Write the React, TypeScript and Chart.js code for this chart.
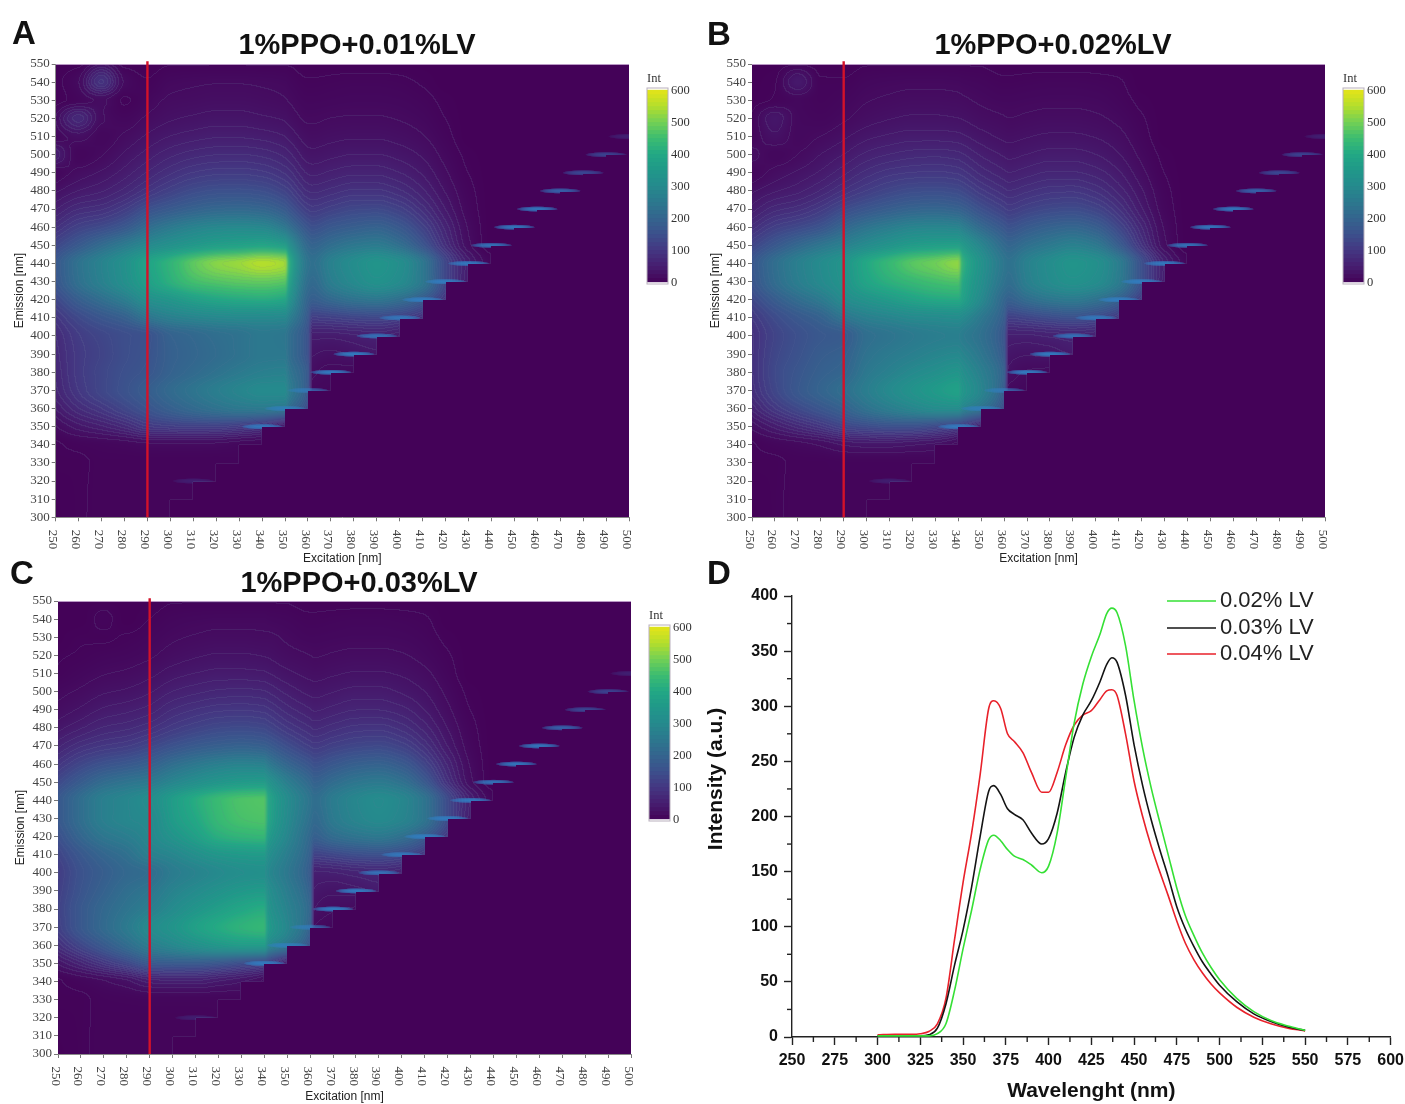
import React, { useEffect, useRef } from "react";
import { Chart, registerables } from "chart.js";

Chart.register(...registerables);

// ---------- data: excitation-emission maps ----------
const emissionRows = [550, 540, 530, 520, 510, 500, 490, 480, 470, 460, 450, 440, 430, 420, 410, 400, 390, 380, 370, 360, 350, 340, 330, 320, 310, 300];
const excitationA = [250, 260, 270, 280, 290, 300, 310, 320, 330, 340, 350, 352, 360, 362, 370, 380, 390, 400, 410, 420, 430, 440, 450, 460, 470, 480, 490, 500];
const excitationBC = [250, 260, 270, 280, 290, 300, 310, 320, 330, 340, 342, 350, 360, 362, 370, 380, 390, 400, 410, 420, 430, 440, 450, 460, 470, 480, 490, 500];
const xTickLabels = [250, 260, 270, 280, 290, 300, 310, 320, 330, 340, 350, 360, 370, 380, 390, 400, 410, 420, 430, 440, 450, 460, 470, 480, 490, 500];
const colorbarTicks = [0, 100, 200, 300, 400, 500, 600];

const gridA = [
  [0, 0, 25, 0, 0, 3, 3, 3, 3, 3, 3, 3],
  [0, 15, 90, 15, 5, 12, 14, 15, 15, 14, 12, 10, 5, 5, 6, 7, 7, 6, 3],
  [0, 8, 18, 3, 10, 18, 20, 22, 22, 20, 17, 15, 9, 9, 10, 11, 11, 10, 7, 2],
  [15, 70, 18, 10, 18, 26, 30, 33, 33, 30, 26, 23, 14, 14, 16, 17, 17, 15, 11, 4],
  [8, 22, 10, 18, 30, 40, 46, 50, 50, 47, 40, 36, 22, 21, 24, 26, 26, 23, 17, 7],
  [50, 8, 15, 30, 45, 60, 70, 75, 76, 72, 60, 55, 33, 32, 36, 40, 40, 35, 26, 12, 2],
  [8, 20, 30, 45, 65, 85, 100, 107, 108, 103, 86, 80, 50, 48, 54, 60, 60, 52, 38, 18, 4],
  [25, 40, 50, 68, 95, 120, 140, 150, 152, 146, 122, 113, 75, 72, 80, 90, 90, 78, 55, 27, 7],
  [50, 75, 85, 110, 150, 175, 195, 208, 212, 205, 175, 160, 110, 105, 118, 132, 135, 118, 82, 40, 10],
  [85, 120, 140, 170, 220, 255, 280, 295, 300, 295, 250, 230, 160, 150, 170, 185, 195, 170, 120, 60, 15],
  [130, 175, 220, 260, 300, 330, 355, 375, 385, 395, 375, 330, 210, 200, 225, 250, 260, 230, 165, 80, 20],
  [170, 235, 280, 325, 385, 430, 480, 515, 530, 550, 535, 420, 240, 230, 275, 310, 335, 315, 250, 130, 45, 8],
  [165, 230, 275, 320, 375, 420, 455, 470, 480, 485, 475, 390, 225, 215, 265, 300, 325, 305, 250, 130, 40],
  [130, 185, 225, 265, 320, 345, 375, 395, 405, 410, 395, 340, 200, 185, 210, 235, 245, 225, 175, 90],
  [95, 135, 165, 190, 240, 270, 285, 295, 300, 300, 295, 270, 170, 110, 115, 125, 130, 115, 80],
  [75, 110, 130, 145, 155, 195, 210, 225, 235, 250, 245, 225, 150, 45, 45, 50, 55, 40],
  [70, 105, 125, 145, 158, 190, 205, 220, 235, 250, 250, 225, 150, 30, 25, 30, 35],
  [65, 105, 130, 150, 165, 195, 215, 235, 255, 270, 275, 245, 170, 20, 12, 10],
  [60, 100, 130, 155, 183, 215, 240, 265, 285, 300, 300, 265, 165, 10, 8],
  [40, 75, 100, 130, 160, 190, 215, 235, 250, 255, 245, 215, 130],
  [15, 35, 50, 70, 100, 110, 115, 115, 105, 85, 40, 40],
  [3, 6, 8, 10, 14, 15, 15, 14, 10, 6],
  [3, 3, 5, 5, 5, 5, 5, 5, 5],
  [2, 3, 5, 5, 5, 5, 5, 5],
  [1, 3, 5, 5, 5, 5, 5],
  [0, 3, 5, 5, 5, 5],
];

const gridB = [
  [0, 0, 0, 0, 0, 3, 3, 3, 3, 3, 3, 3],
  [0, 3, 40, 5, 5, 10, 12, 13, 13, 12, 11, 9, 6, 6, 7, 8, 8, 7, 5],
  [0, 5, 10, 6, 9, 15, 18, 20, 20, 19, 18, 14, 11, 11, 12, 13, 13, 12, 8, 2],
  [5, 35, 12, 9, 14, 22, 27, 30, 30, 28, 27, 21, 17, 16, 18, 20, 20, 18, 13, 5],
  [6, 25, 12, 16, 25, 36, 42, 46, 46, 44, 42, 33, 25, 24, 27, 30, 30, 27, 20, 8],
  [20, 10, 16, 28, 40, 55, 64, 70, 72, 68, 65, 50, 38, 36, 40, 45, 45, 40, 29, 13, 2],
  [8, 20, 30, 42, 60, 80, 94, 100, 102, 97, 93, 72, 55, 52, 58, 65, 65, 58, 42, 20, 4],
  [25, 38, 48, 65, 90, 112, 130, 142, 145, 138, 132, 104, 80, 76, 85, 95, 97, 85, 60, 30, 7],
  [45, 70, 82, 105, 140, 165, 185, 200, 205, 195, 188, 150, 115, 108, 122, 135, 140, 125, 88, 42, 10],
  [80, 115, 135, 160, 205, 240, 265, 285, 290, 285, 270, 215, 165, 155, 175, 195, 205, 185, 130, 65, 15],
  [125, 170, 210, 245, 275, 310, 340, 365, 375, 380, 360, 290, 215, 205, 230, 255, 275, 255, 185, 90, 20],
  [165, 225, 270, 305, 340, 400, 440, 475, 495, 520, 430, 330, 245, 235, 275, 310, 335, 320, 265, 150, 50, 8],
  [160, 220, 265, 300, 335, 390, 420, 440, 455, 465, 405, 320, 235, 225, 270, 305, 325, 310, 260, 150, 45],
  [130, 180, 220, 255, 305, 335, 360, 385, 400, 405, 380, 300, 205, 190, 220, 245, 255, 235, 190, 100],
  [100, 140, 170, 195, 240, 270, 285, 300, 305, 310, 300, 250, 180, 115, 125, 140, 150, 135, 95],
  [85, 125, 150, 170, 178, 225, 240, 255, 265, 270, 260, 230, 160, 50, 50, 55, 60, 50],
  [85, 130, 155, 180, 192, 235, 255, 270, 285, 295, 285, 245, 170, 35, 30, 32, 40],
  [85, 135, 165, 190, 205, 250, 275, 300, 320, 340, 320, 270, 190, 25, 15, 12],
  [80, 130, 170, 200, 228, 265, 300, 330, 355, 375, 345, 285, 175, 12, 8],
  [55, 100, 135, 165, 195, 235, 265, 290, 310, 315, 285, 235, 135],
  [20, 45, 70, 95, 125, 140, 150, 150, 135, 110, 100, 50],
  [3, 8, 12, 18, 30, 35, 35, 30, 25, 10],
  [3, 3, 5, 5, 6, 6, 6, 6, 6],
  [2, 3, 5, 5, 5, 5, 5, 5],
  [1, 3, 5, 5, 5, 5, 5],
  [0, 3, 5, 5, 5, 5],
];

const gridC = [
  [0, 0, 0, 0, 0, 3, 3, 3, 3, 3, 3, 3],
  [0, 0, 6, 0, 4, 9, 11, 12, 12, 12, 11, 9, 6, 6, 7, 8, 8, 7, 5],
  [0, 3, 3, 5, 9, 14, 17, 19, 19, 18, 18, 14, 10, 10, 11, 12, 12, 11, 8, 2],
  [3, 5, 8, 10, 14, 21, 26, 29, 29, 27, 26, 20, 16, 15, 17, 19, 19, 17, 12, 5],
  [5, 10, 15, 18, 24, 34, 40, 44, 44, 42, 40, 31, 24, 23, 26, 29, 29, 26, 19, 8],
  [12, 18, 26, 30, 38, 52, 60, 66, 68, 65, 62, 48, 36, 35, 39, 44, 44, 38, 28, 13, 2],
  [20, 30, 42, 48, 57, 76, 88, 96, 98, 94, 90, 70, 53, 50, 56, 63, 63, 56, 40, 19, 4],
  [35, 50, 65, 72, 85, 106, 122, 134, 138, 132, 126, 100, 77, 73, 82, 92, 94, 82, 58, 28, 7],
  [60, 85, 100, 110, 130, 155, 175, 188, 195, 188, 180, 145, 110, 105, 118, 130, 135, 120, 85, 40, 10],
  [95, 130, 155, 170, 190, 225, 250, 270, 280, 275, 255, 205, 160, 150, 168, 188, 195, 175, 125, 62, 15],
  [135, 180, 220, 240, 255, 290, 320, 345, 360, 365, 340, 270, 210, 195, 220, 245, 255, 235, 175, 85, 20],
  [170, 225, 270, 290, 312, 365, 410, 445, 465, 470, 400, 310, 240, 225, 260, 290, 305, 290, 240, 140, 50, 8],
  [170, 225, 270, 290, 300, 360, 400, 440, 460, 465, 395, 305, 230, 215, 255, 285, 300, 285, 240, 140, 45],
  [150, 205, 245, 265, 293, 335, 375, 415, 430, 435, 365, 290, 210, 190, 220, 240, 250, 230, 180, 95],
  [125, 170, 205, 230, 270, 290, 320, 345, 355, 360, 320, 265, 190, 120, 130, 145, 150, 135, 95],
  [110, 155, 185, 210, 222, 260, 280, 300, 315, 320, 295, 250, 175, 50, 52, 60, 65, 50],
  [115, 160, 195, 225, 245, 280, 305, 330, 350, 360, 320, 265, 190, 38, 32, 35, 42],
  [120, 170, 210, 240, 268, 305, 340, 370, 395, 410, 340, 280, 205, 28, 18, 14],
  [115, 170, 215, 255, 303, 335, 375, 405, 425, 435, 360, 290, 190, 15, 8],
  [80, 130, 175, 220, 265, 295, 325, 350, 365, 365, 300, 245, 145],
  [30, 60, 95, 130, 170, 175, 175, 165, 145, 125, 110, 50],
  [3, 8, 15, 25, 45, 50, 50, 40, 30, 12],
  [3, 3, 6, 7, 8, 8, 8, 8, 8],
  [2, 3, 5, 5, 5, 5, 5, 5],
  [1, 3, 5, 5, 5, 5, 5],
  [0, 3, 5, 5, 5, 5],
];

// narrow scatter streaks, one per emission row
const streakEmission = [320, 350, 360, 370, 380, 390, 400, 410, 420, 430, 440, 450, 460, 470, 480, 490, 500, 510];
const streakPeaks = [30, 130, 110, 100, 140, 140, 120, 120, 130, 130, 135, 130, 135, 135, 110, 80, 75, 35];

// ---------- data: panel D spectra ----------
const wavelengths = [300, 310, 320, 325, 330, 335, 340, 345, 350, 355, 360, 365, 368, 372, 376, 380, 385, 390, 396, 400, 405, 410, 415, 420, 425, 430, 434, 437, 440, 445, 450, 455, 460, 465, 470, 475, 480, 485, 490, 495, 500, 510, 520, 530, 540, 550];
const lv002 = [1, 1, 1, 1, 1, 3, 12, 42, 80, 115, 152, 179, 183, 178, 170, 164, 161, 156, 149, 155, 185, 235, 285, 320, 345, 365, 384, 389, 385, 355, 305, 262, 226, 195, 165, 135, 110, 92, 76, 63, 52, 35, 23, 15, 10, 6];
const lv003 = [1, 1, 1, 1, 2, 8, 30, 65, 97, 136, 182, 223, 228, 220, 207, 202, 197, 185, 175, 180, 203, 240, 272, 292, 305, 322, 338, 344, 340, 310, 265, 228, 197, 170, 145, 118, 98, 82, 68, 57, 47, 32, 21, 14, 9, 6];
const lv004 = [2, 2.5, 2.5, 3, 5, 12, 35, 88, 140, 185, 238, 298, 305, 298, 275, 268, 258, 240, 222, 222, 240, 265, 283, 292, 296, 306, 314, 315, 310, 275, 232, 200, 173, 150, 128, 105, 85, 70, 58, 48, 40, 27, 18, 12, 8, 5.5];
const seriesLabels = ["0.02% LV", "0.03% LV", "0.04% LV"];

const SANS = '"Liberation Sans", Arial, sans-serif';
const SERIF = '"Liberation Serif", "Times New Roman", serif';

const colorStops: [number, number, number, number][] = [
  [0, 68, 2, 88], [50, 70, 30, 112], [100, 68, 55, 130], [150, 60, 80, 140], [200, 52, 100, 142],
  [250, 44, 120, 142], [300, 37, 138, 141], [350, 32, 152, 137], [400, 34, 168, 132], [450, 60, 188, 112],
  [500, 115, 208, 85], [550, 180, 222, 44], [600, 228, 228, 25],
];
function colorFor(v: number): [number, number, number] {
  const c = Math.max(0, Math.min(600, v));
  for (let i = 1; i < colorStops.length; i++) {
    if (c <= colorStops[i][0]) {
      const a = colorStops[i - 1], b = colorStops[i];
      const t = (c - a[0]) / (b[0] - a[0]);
      return [a[1] + (b[1] - a[1]) * t, a[2] + (b[2] - a[2]) * t, a[3] + (b[3] - a[3]) * t];
    }
  }
  return [228, 228, 25];
}

function tangents(xs: number[], ys: number[]): number[] {
  const n = xs.length;
  const s: number[] = [];
  for (let i = 0; i < n - 1; i++) s.push((ys[i + 1] - ys[i]) / (xs[i + 1] - xs[i]));
  const m = new Array(n).fill(0);
  m[0] = s[0];
  m[n - 1] = s[n - 2];
  for (let i = 1; i < n - 1; i++) {
    if (s[i - 1] * s[i] <= 0) m[i] = 0;
    else m[i] = (2 * s[i - 1] * s[i]) / (s[i - 1] + s[i]);
  }
  return m;
}
function hermite(x0: number, x1: number, y0: number, y1: number, m0: number, m1: number, x: number) {
  const h = x1 - x0;
  const t = (x - x0) / h;
  const t2 = t * t, t3 = t2 * t;
  return (2 * t3 - 3 * t2 + 1) * y0 + (t3 - 2 * t2 + t) * h * m0 + (-2 * t3 + 3 * t2) * y1 + (t3 - t2) * h * m1;
}

function heatPlugin() {
  return {
    id: "heat",
    beforeDatasetsDraw(chart: any) {
      const ds = chart.data.datasets[0];
      const cols: number[] = ds.excitation;
      const rows: number[] = [...emissionRows].reverse();
      const M: number[][] = rows.map(() => new Array(cols.length).fill(0));
      for (const c of ds.data) M[rows.indexOf(c.y)][cols.indexOf(c.x)] = c.v;
      const colT = cols.map((_, j) => tangents(rows, M.map((r) => r[j])));
      const { left, top, right, bottom } = chart.chartArea;
      const L = Math.round(left), T = Math.round(top);
      const W = Math.round(right) - L, H = Math.round(bottom) - T;
      const xs = chart.scales.x, ys = chart.scales.y;
      const buf = new Float32Array(W * H);
      const sbuf = new Float32Array(W * H);
      for (let py = 0; py < H; py++) {
        const em = ys.getValueForPixel(T + py + 0.5);
        let i = Math.floor((em - 300) / 10);
        i = Math.max(0, Math.min(rows.length - 2, i));
        const rowV = cols.map((_, j) => hermite(rows[i], rows[i + 1], M[i][j], M[i + 1][j], colT[j][i], colT[j][i + 1], em));
        const rowT = tangents(cols, rowV);
        const near = Math.round(em / 10) * 10;
        const sIdx = streakEmission.indexOf(near);
        let j = 0;
        for (let px = 0; px < W; px++) {
          const ex = xs.getValueForPixel(L + px + 0.5);
          while (j < cols.length - 2 && ex > cols[j + 1]) j++;
          let v = Math.max(0, hermite(cols[j], cols[j + 1], rowV[j], rowV[j + 1], rowT[j], rowT[j + 1], ex));
          let s = 0;
          if (sIdx >= 0) {
            const dy = (em - near) / 1.5, dx = (ex - (near - 10)) / 9;
            const r = dx * dx + dy * dy;
            if (r < 1) s = Math.min(1, (streakPeaks[sIdx] / 150) * Math.sqrt(1 - r));
          }
          if (em < Math.ceil(ex / 10) * 10 - 0.4) { v = 0; s = 0; }
          buf[py * W + px] = v;
          sbuf[py * W + px] = s;
        }
      }
      const off = document.createElement("canvas");
      off.width = W;
      off.height = H;
      const octx = off.getContext("2d")!;
      const img = octx.createImageData(W, H);
      const level = (v: number) => Math.floor((v + 8) / 12);
      for (let py = 0; py < H; py++) {
        for (let px = 0; px < W; px++) {
          const k = py * W + px;
          const v = buf[k];
          let [r, g, b] = colorFor(v);
          const l = level(v);
          const edge = (px < W - 1 && level(buf[k + 1]) !== l) || (py < H - 1 && level(buf[k + W]) !== l);
          if (edge) {
            const a = v < 120 ? 0.18 : 0.08;
            r = r * (1 - a) + 105 * a;
            g = g * (1 - a) + 115 * a;
            b = b * (1 - a) + 155 * a;
          }
          const s = sbuf[k];
          if (s > 0) {
            r = r * (1 - s) + 48 * s;
            g = g * (1 - s) + 128 * s;
            b = b * (1 - s) + 196 * s;
          }
          const o = k * 4;
          img.data[o] = r;
          img.data[o + 1] = g;
          img.data[o + 2] = b;
          img.data[o + 3] = 255;
        }
      }
      octx.putImageData(img, 0, 0);
      const ctx = chart.ctx;
      ctx.save();
      ctx.fillStyle = "rgb(68,2,88)";
      ctx.fillRect(L, T, W, H);
      ctx.beginPath();
      ctx.rect(L, T, W, H);
      ctx.clip();
      ctx.filter = "blur(0.7px)";
      ctx.drawImage(off, L, T);
      ctx.filter = "none";
      ctx.fillStyle = "rgba(215,190,225,0.8)";
      ctx.fillRect(L, T, W, 1);
      ctx.restore();
    },
    afterDraw(chart: any) {
      // colour bar
      const ctx = chart.ctx;
      const { right, top } = chart.chartArea;
      const x0 = right + 18, w = 21;
      const y600 = top + 26, y0 = top + 218;
      ctx.save();
      const bands = 48;
      for (let i = 0; i < bands; i++) {
        const v = ((i + 0.5) / bands) * 600;
        const [r, g, b] = colorFor(v);
        ctx.fillStyle = `rgb(${r},${g},${b})`;
        const a = y0 - ((i + 1) / bands) * (y0 - y600);
        const z = y0 - (i / bands) * (y0 - y600);
        ctx.fillRect(x0, a - 0.2, w, z - a + 0.4);
      }
      ctx.strokeStyle = "#b9b0bd";
      ctx.lineWidth = 1;
      ctx.strokeRect(x0, y600 - 2, w, y0 - y600 + 4);
      ctx.font = `12.5px ${SERIF}`;
      ctx.fillStyle = "#333";
      ctx.textAlign = "left";
      ctx.textBaseline = "middle";
      for (const t of colorbarTicks) ctx.fillText(String(t), x0 + w + 3, y0 - (t / 600) * (y0 - y600) + 0.5);
      ctx.fillText("Int", x0, y600 - 11);
      ctx.restore();
    },
  };
}

function useHeat(
  ref: React.RefObject<HTMLCanvasElement | null>,
  cfg: { title: string; grid: number[][]; cols: number[]; leftW: number; rightPad: number; titleTop: number; titleBottom: number; xH: number; yTitlePad: number }
) {
  useEffect(() => {
    const cells: any[] = [];
    cfg.grid.forEach((row, r) => cfg.cols.forEach((c, j) => cells.push({ x: c, y: emissionRows[r], v: row[j] ?? 0 })));
    const chart = new Chart(ref.current!, {
      type: "scatter",
      data: {
        datasets: [
          { label: "Int", data: cells, pointRadius: 0, excitation: cfg.cols, showLine: false } as any,
          { label: "cut", data: [{ x: 290, y: 300 }, { x: 290, y: 551.5 }], showLine: true, borderColor: "#d3122a", borderWidth: 2.4, pointRadius: 0, clip: false } as any,
        ],
      },
      options: {
        animation: false,
        responsive: false,
        layout: { autoPadding: false, padding: 0 },
        plugins: {
          legend: { display: false },
          tooltip: { enabled: false },
          title: {
            display: true,
            text: cfg.title,
            color: "#111",
            font: { family: SANS, size: 29, weight: "bold", lineHeight: 1 },
            padding: { top: cfg.titleTop, bottom: cfg.titleBottom },
          },
        },
        scales: {
          x: {
            type: "linear",
            min: 250,
            max: 500,
            afterFit: (s: any) => { s.height = cfg.xH; },
            afterBuildTicks: (s: any) => { s.ticks = xTickLabels.map((value) => ({ value })); },
            border: { color: "#8a8a8a" },
            grid: { drawOnChartArea: false, tickLength: 4, color: "#777" },
            ticks: { autoSkip: false, minRotation: -90, maxRotation: -90, padding: 28, labelOffset: -3, color: "#444", font: { family: SERIF, size: 13 } },
            title: { display: true, text: "Excitation [nm]", color: "#222", font: { family: SANS, size: 12 }, padding: { top: 0, bottom: 0 } },
          },
          y: {
            type: "linear",
            min: 300,
            max: 550,
            afterFit: (s: any) => { s.width = cfg.leftW; },
            ticks: { stepSize: 10, autoSkip: false, padding: 2, color: "#444", font: { family: SERIF, size: 13 } },
            border: { color: "#8a8a8a" },
            grid: { drawOnChartArea: false, tickLength: 4, color: "#777" },
            title: { display: true, text: "Emission [nm]", color: "#222", font: { family: SANS, size: 12 }, padding: { top: cfg.yTitlePad, bottom: 0 } },
          },
          side: {
            type: "linear",
            position: "right",
            display: true,
            afterFit: (s: any) => { s.width = cfg.rightPad; },
            ticks: { display: false },
            border: { display: false },
            grid: { display: false },
          },
        },
      } as any,
      plugins: [heatPlugin() as any],
    });
    return () => chart.destroy();
  }, []);
}

const curvePlugin = {
  id: "curve",
  afterDraw(chart: any) {
    const ctx = chart.ctx;
    const { x, y } = chart.scales;
    ctx.save();
    ctx.strokeStyle = "#222";
    ctx.lineWidth = 1.4;
    // minor ticks
    for (let v = 262.5; v < 600; v += 25) {
      const p = x.getPixelForValue(v);
      ctx.beginPath();
      ctx.moveTo(p, y.bottom);
      ctx.lineTo(p, y.bottom + 5);
      ctx.stroke();
    }
    for (let v = 25; v < 400; v += 50) {
      const p = y.getPixelForValue(v);
      ctx.beginPath();
      ctx.moveTo(x.left, p);
      ctx.lineTo(x.left - 5, p);
      ctx.stroke();
    }
    // legend
    const rows = [41, 68, 94];
    chart.data.datasets.forEach((d: any, i: number) => {
      ctx.strokeStyle = d.borderColor;
      ctx.lineWidth = 1.6;
      ctx.beginPath();
      ctx.moveTo(467, rows[i]);
      ctx.lineTo(516, rows[i]);
      ctx.stroke();
      ctx.fillStyle = "#222";
      ctx.font = `22px ${SANS}`;
      ctx.textAlign = "left";
      ctx.textBaseline = "middle";
      ctx.fillText(d.label, 520, rows[i]);
    });
    // off-centre vertical axis title
    ctx.translate(16, 219);
    ctx.rotate(-Math.PI / 2);
    ctx.font = `bold 21px ${SANS}`;
    ctx.fillStyle = "#111";
    ctx.textAlign = "center";
    ctx.textBaseline = "middle";
    ctx.fillText("Intensity (a.u.)", 0, 0);
    ctx.restore();
  },
};

function pts(ys: number[]) {
  return wavelengths.map((x, i) => ({ x, y: ys[i] }));
}

const abs = (left: number, top: number): React.CSSProperties => ({ position: "absolute", left, top });
const letter = (left: number, top: number): React.CSSProperties => ({
  position: "absolute", left, top, font: `bold 33px ${SANS}`, lineHeight: "33px", color: "#111",
});

export default function App() {
  const a = useRef<HTMLCanvasElement>(null);
  const b = useRef<HTMLCanvasElement>(null);
  const c = useRef<HTMLCanvasElement>(null);
  const d = useRef<HTMLCanvasElement>(null);

  useHeat(a, { title: "1%PPO+0.01%LV", grid: gridA, cols: excitationA, leftW: 55.7, rightPad: 85, titleTop: 31, titleBottom: 4, xH: 48.7, yTitlePad: 12 });
  useHeat(b, { title: "1%PPO+0.02%LV", grid: gridB, cols: excitationBC, leftW: 52, rightPad: 81, titleTop: 31, titleBottom: 4, xH: 48.7, yTitlePad: 8.4 });
  useHeat(c, { title: "1%PPO+0.03%LV", grid: gridC, cols: excitationBC, leftW: 58, rightPad: 87, titleTop: 29.5, titleBottom: 2.5, xH: 50, yTitlePad: 13 });

  useEffect(() => {
    const chart = new Chart(d.current!, {
      type: "line",
      data: {
        datasets: [
          { label: seriesLabels[0], data: pts(lv002), borderColor: "#35e035", borderWidth: 1.6, pointRadius: 0, cubicInterpolationMode: "monotone" },
          { label: seriesLabels[1], data: pts(lv003), borderColor: "#141414", borderWidth: 1.6, pointRadius: 0, cubicInterpolationMode: "monotone" },
          { label: seriesLabels[2], data: pts(lv004), borderColor: "#e8212a", borderWidth: 1.6, pointRadius: 0, cubicInterpolationMode: "monotone" },
        ],
      },
      options: {
        animation: false,
        responsive: false,
        layout: { autoPadding: false, padding: { left: 0, right: 0, top: 36, bottom: 0 } },
        plugins: { legend: { display: false }, tooltip: { enabled: false } },
        scales: {
          x: {
            type: "linear",
            min: 250,
            max: 600,
            afterFit: (s: any) => { s.height = 67; },
            ticks: { stepSize: 25, autoSkip: false, maxRotation: 0, padding: 6, color: "#111", font: { family: SANS, size: 16, weight: "bold" } },
            border: { color: "#222", width: 1.4 },
            grid: { drawOnChartArea: false, tickLength: 8, tickColor: "#222", tickWidth: 1.4 },
            title: { display: true, text: "Wavelenght (nm)", color: "#111", font: { family: SANS, size: 21, weight: "bold" }, padding: 0 },
          },
          y: {
            type: "linear",
            min: 0,
            max: 400,
            afterFit: (s: any) => { s.width = 92; },
            ticks: { stepSize: 50, autoSkip: false, padding: 6, color: "#111", font: { family: SANS, size: 16, weight: "bold" } },
            border: { color: "#222", width: 1.4 },
            grid: { drawOnChartArea: false, tickLength: 8, tickColor: "#222", tickWidth: 1.4 },
          },
        },
      } as any,
      plugins: [curvePlugin as any],
    });
    return () => chart.destroy();
  }, []);

  return (
    <div style={{ position: "absolute", left: 0, top: 0, width: 1405, height: 1104, background: "#fff", overflow: "hidden" }}>
      <canvas ref={a} width={714} height={566} style={abs(0, 0)} />
      <canvas ref={b} width={706} height={566} style={abs(700, 0)} />
      <canvas ref={c} width={718} height={564} style={abs(0, 540)} />
      <canvas ref={d} width={710} height={544} style={abs(700, 560)} />
      <div style={letter(12, 16)}>A</div>
      <div style={letter(707, 17)}>B</div>
      <div style={letter(10, 556)}>C</div>
      <div style={letter(707, 556)}>D</div>
    </div>
  );
}
